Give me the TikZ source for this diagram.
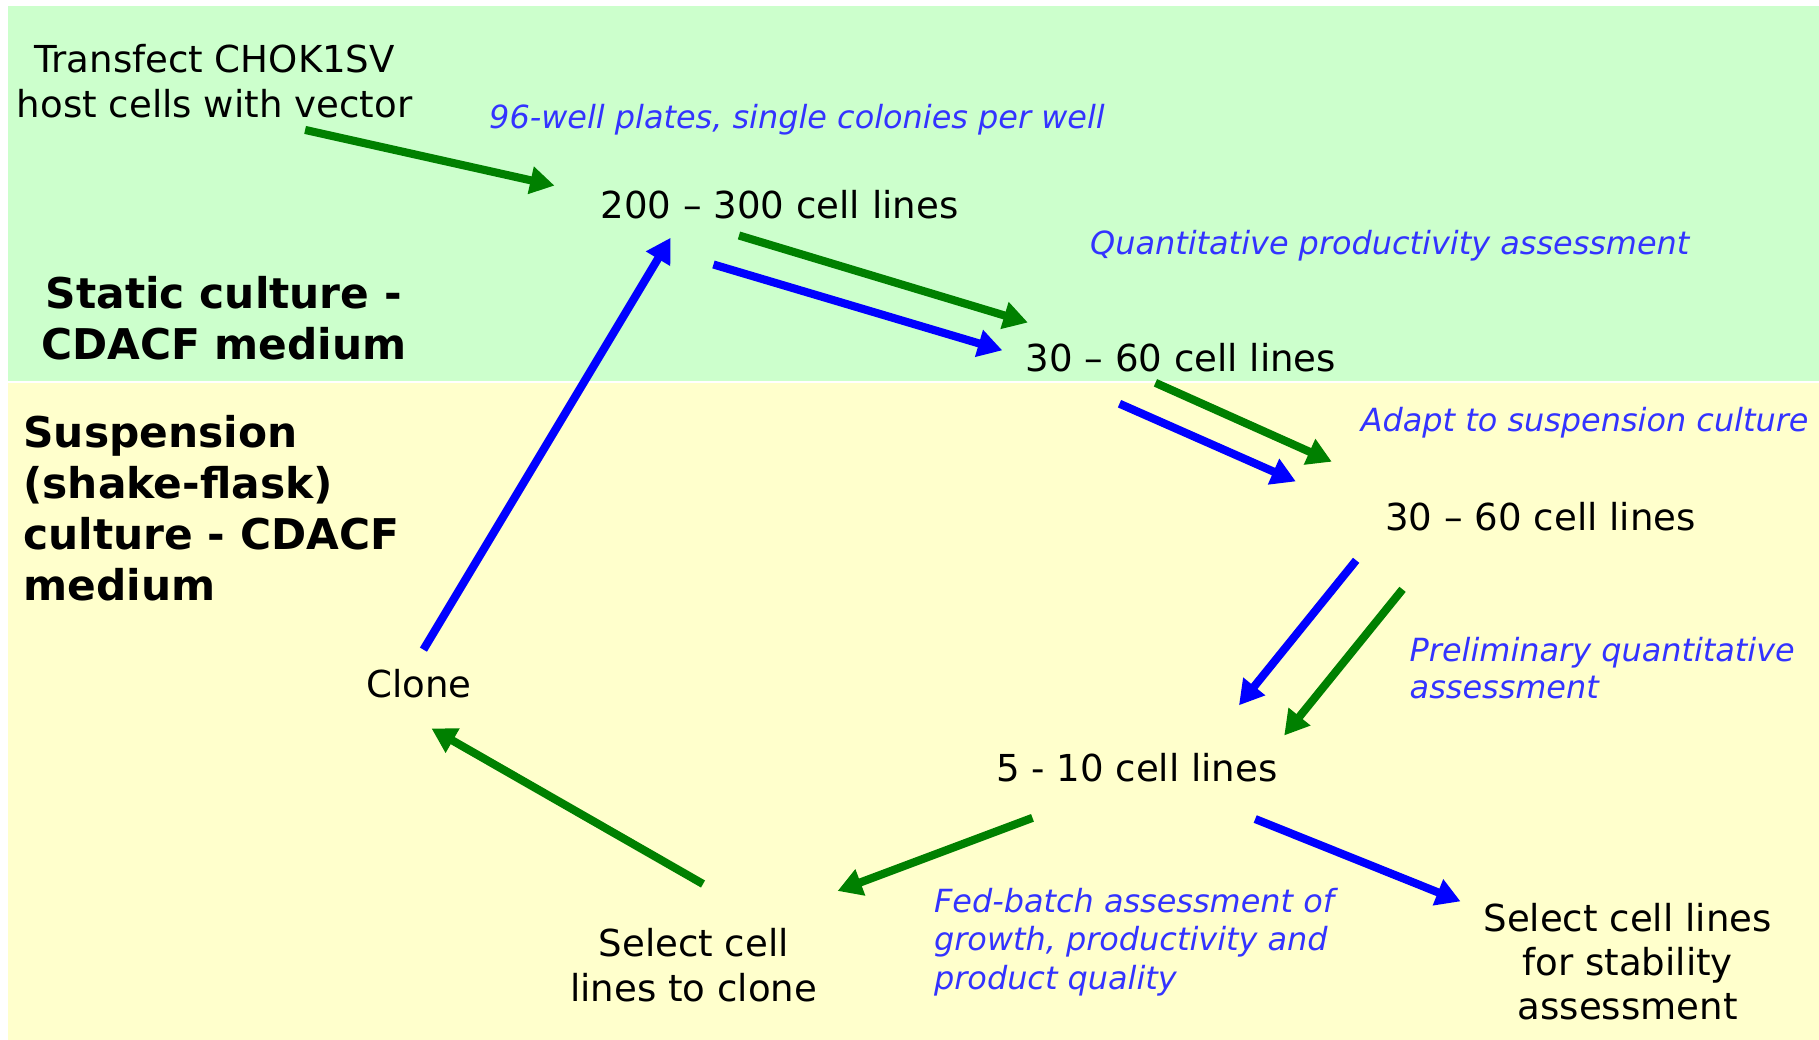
\documentclass[tikz,border=0pt]{standalone}
\usepackage{fontspec}
\setmainfont{DejaVu Sans}
\usetikzlibrary{arrows.meta}
\definecolor{bggreen}{HTML}{CCFFCC}
\definecolor{bgyellow}{HTML}{FFFFCC}
\definecolor{arrgreen}{HTML}{008000}
\definecolor{arrblue}{HTML}{0000FF}
\definecolor{lblblue}{HTML}{3333FF}
\tikzset{
  main/.style={inner sep=0pt, font=\fontsize{32}{39}\selectfont, text=black},
  side/.style={inner sep=0pt, font=\fontsize{36.5}{44}\selectfont\bfseries, text=black},
  note/.style={inner sep=0pt, font=\fontsize{27.5}{33}\selectfont\itshape, text=lblblue},
  garrow/.style={draw=arrgreen, line width=7pt, -{Triangle[length=21pt,width=23pt]}},
  barrow/.style={draw=arrblue, line width=7pt, -{Triangle[length=21pt,width=23pt]}},
}
\begin{document}
\begin{tikzpicture}[x=1pt,y=-1pt]
\useasboundingbox (0,0) rectangle (1568,896);
\fill[white] (0,0) rectangle (1568,896);
\fill[bggreen] (7,5) rectangle (1572,328);
\fill[bgyellow] (7,330) rectangle (1572,902);

% texts
\node[main, align=center] (transfect) at (185,70) {Transfect CHOK1SV\\host cells with vector};
\node[note] (wells) at (687,103) {96-well plates, single colonies per well};
\node[main] (n200) at (672,176) {200 – 300 cell lines};
\node[note] (quant) at (1198,212) {Quantitative productivity assessment};
\node[side, align=center] (static) at (193,274) {Static culture -\\CDACF medium};
\node[main] (n30a) at (1018,308) {30 – 60 cell lines};
\node[side, align=left, anchor=west] (susp) at (20,438) {Suspension\\(shake-flask)\\culture - CDACF\\medium};
\node[note] (adapt) at (1366,364) {Adapt to suspension culture};
\node[main] (n30b) at (1328,445) {30 – 60 cell lines};
\node[note, align=left, anchor=west, font=\fontsize{27.5}{32}\selectfont\itshape] (prelim) at (1215,576) {Preliminary quantitative\\assessment};
\node[main] (clone) at (361,589) {Clone};
\node[main] (n5) at (980,662) {5 - 10 cell lines};
\node[main, align=center] (selclone) at (598,832) {Select cell\\lines to clone};
\node[note, align=left, anchor=west] (fed) at (805,812) {Fed-batch assessment of\\growth, productivity and\\product quality};
\node[main, align=center, font=\fontsize{32}{38}\selectfont] (selstab) at (1403,829) {Select cell lines\\for stability\\assessment};

% arrow end points
\coordinate (a1) at (263,112); \coordinate (a2) at (478,160);
\coordinate (b1) at (637,203); \coordinate (b2) at (886,278);
\coordinate (c1) at (615,228); \coordinate (c2) at (864,302);
\coordinate (d1) at (365,560); \coordinate (d2) at (578,205);
\coordinate (e1) at (996,330); \coordinate (e2) at (1148,398);
\coordinate (f1) at (965,348); \coordinate (f2) at (1117,415);
\coordinate (g1) at (1169,483); \coordinate (g2) at (1068,608);
\coordinate (h1) at (1209,508); \coordinate (h2) at (1107,634);
\coordinate (i1) at (890,705); \coordinate (i2) at (722,768);
\coordinate (j1) at (606,762); \coordinate (j2) at (372,628);
\coordinate (k1) at (1082,706); \coordinate (k2) at (1259,777);

\draw[garrow] (a1) -- (a2);
\draw[garrow] (b1) -- (b2);
\draw[barrow] (c1) -- (c2);
\draw[barrow] (d1) -- (d2);
\draw[garrow] (e1) -- (e2);
\draw[barrow] (f1) -- (f2);
\draw[barrow] (g1) -- (g2);
\draw[garrow] (h1) -- (h2);
\draw[garrow] (i1) -- (i2);
\draw[garrow] (j1) -- (j2);
\draw[barrow] (k1) -- (k2);
\end{tikzpicture}
\end{document}
